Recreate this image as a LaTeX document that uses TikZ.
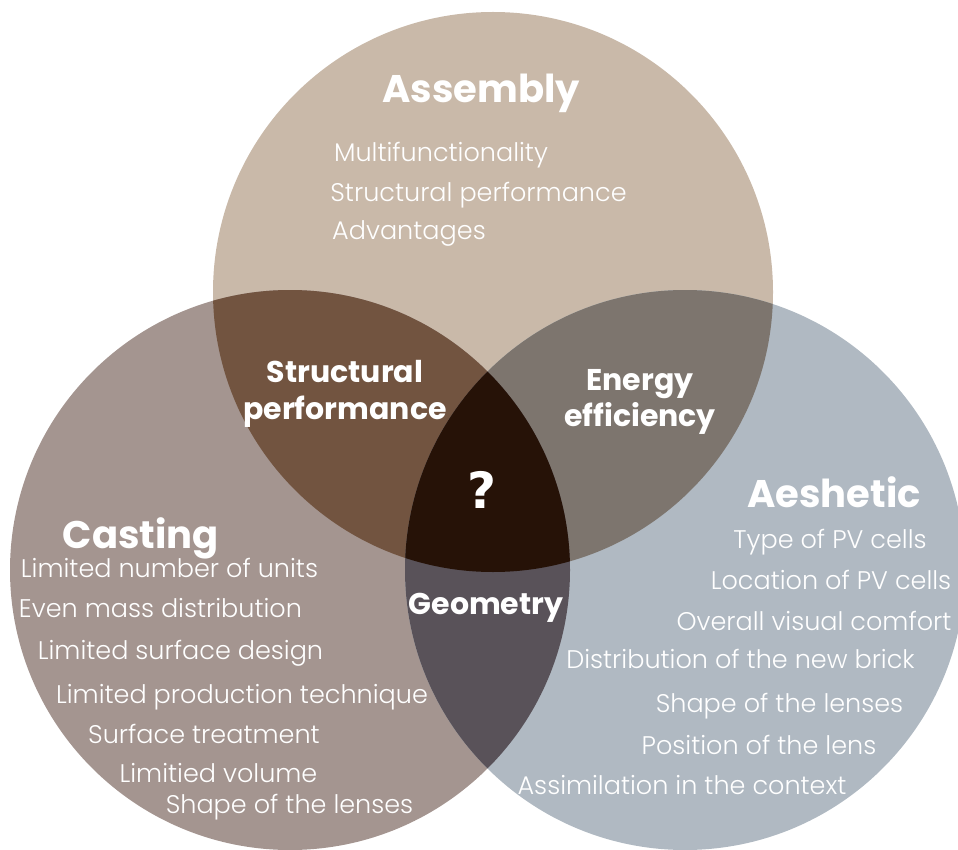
\documentclass[tikz,border=0pt]{standalone}
\usepackage{fontspec}
\setmainfont{Poppins}
\newfontfamily\lightfont{Poppins Light}
\newfontfamily\qfont{DejaVu Sans}
\definecolor{cA}{RGB}{201,185,169}
\definecolor{cB}{RGB}{164,149,144}
\definecolor{cC}{RGB}{176,185,194}
\definecolor{cAB}{RGB}{114,84,64}
\definecolor{cAC}{RGB}{125,117,110}
\definecolor{cBC}{RGB}{89,82,89}
\definecolor{cABC}{RGB}{38,18,7}
\tikzset{
  title/.style={text=white,font=\bfseries\fontsize{38.5}{42}\selectfont,anchor=base,inner sep=0pt},
  sub/.style={text=white,font=\bfseries\fontsize{30}{34}\selectfont,anchor=base,inner sep=0pt},
  item/.style={text=white,font=\lightfont\fontsize{25.5}{28}\selectfont,anchor=base,inner sep=0pt},
}
\begin{document}
\begin{tikzpicture}[x=1pt,y=-1pt]
\useasboundingbox (0,0) rectangle (958,850);
\clip (0,0) rectangle (958,850);
\coordinate (A) at (493,292);
\coordinate (B) at (290,570);
\coordinate (C) at (685,570);
\fill[cA] (A) circle[radius=280pt];
\fill[cB] (B) circle[radius=280pt];
\fill[cC] (C) circle[radius=280pt];
\begin{scope}\clip (A) circle[radius=280pt]; \fill[cAB] (B) circle[radius=280pt];\end{scope}
\begin{scope}\clip (A) circle[radius=280pt]; \fill[cAC] (C) circle[radius=280pt];\end{scope}
\begin{scope}\clip (B) circle[radius=280pt]; \fill[cBC] (C) circle[radius=280pt];\end{scope}
\begin{scope}\clip (A) circle[radius=280pt]; \clip (B) circle[radius=280pt]; \fill[cABC] (C) circle[radius=280pt];\end{scope}

% Assembly
\node[title] (tA) at (481,103) {Assembly};
\node[item] (a1) at (441,162) {Multifunctionality};
\node[item] (a2) at (478.5,202) {Structural performance};
\node[item] (a3) at (409,240) {Advantages};

% intersections
\node[sub] (s1) at (345,382) {Structural};
\node[sub] (s2) at (345,419) {performance};
\node[sub] (e1) at (640,390) {Energy};
\node[sub] (e2) at (640,426) {efficiency};
\node[text=white,font=\qfont\bfseries\fontsize{50}{54}\selectfont,anchor=base,inner sep=0pt] (q) at (482,508) {?};
\node[sub] (g) at (486,614) {Geometry};

% Casting
\node[title] (tB) at (141,548) {Casting};
\node[item] (b1) at (169.5,577) {Limited number of units};
\node[item] (b2) at (160.5,617) {Even mass distribution};
\node[item] (b3) at (180.5,659) {Limited surface design};
\node[item] (b4) at (242,703) {Limited production technique};
\node[item] (b5) at (204,743) {Surface treatment};
\node[item] (b6) at (218.5,782) {Limitied volume};
\node[item] (b7) at (289.5,813) {Shape of the lenses};

% Aesthetic
\node[title] (tC) at (834,507) {Aeshetic};
\node[item] (c1) at (830,548) {Type of PV cells};
\node[item] (c2) at (831,589) {Location of PV cells};
\node[item] (c3) at (814,630) {Overall visual comfort};
\node[item] (c4) at (740.5,668) {Distribution of the new brick};
\node[item] (c5) at (779.5,712) {Shape of the lenses};
\node[item] (c6) at (759,754) {Position of the lens};
\node[item] (c7) at (682,794) {Assimilation in the context};
\end{tikzpicture}
\end{document}
